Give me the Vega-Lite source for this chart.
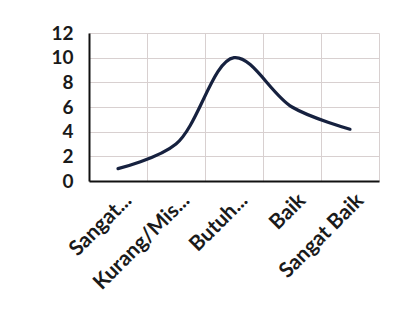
{
  "$schema": "https://vega.github.io/schema/vega-lite/v6.json",
  "width": 290,
  "height": 148,
  "autosize": "none",
  "padding": {"left": 89, "top": 33, "right": 17, "bottom": 129},
  "background": "#ffffff",
  "data": {"values": [
    {"kategori": "Sangat...", "nilai": 1},
    {"kategori": "Kurang/Mis...", "nilai": 3},
    {"kategori": "Butuh...", "nilai": 10},
    {"kategori": "Baik", "nilai": 6},
    {"kategori": "Sangat Baik", "nilai": 4.2}
  ]},
  "config": {
    "view": {"stroke": null},
    "font": "Lato",
    "axis": {"labelFont": "Lato", "labelFontWeight": "bold", "labelColor": "#1a1a1a", "ticks": false, "title": null}
  },
  "mark": {"type": "line", "interpolate": "catmull-rom", "color": "#16213f", "strokeWidth": 3.2, "strokeCap": "round"},
  "encoding": {
    "x": {
      "field": "kategori", "type": "nominal", "sort": null,
      "scale": {"paddingInner": 0, "paddingOuter": 0},
      "axis": {"labelAngle": -45, "labelAlign": "right", "labelBaseline": "middle", "labelFontSize": 21, "labelPadding": 16, "labelOffset": 10,
        "domainColor": "#111111", "domainWidth": 2, "grid": true, "gridColor": "#d8d0d0", "gridWidth": 1, "tickBand": "extent"}
    },
    "y": {
      "field": "nilai", "type": "quantitative",
      "scale": {"domain": [0, 12], "nice": false},
      "axis": {"values": [0, 2, 4, 6, 8, 10, 12], "labelFontSize": 19, "labelPadding": 16,
        "domainColor": "#111111", "domainWidth": 2, "grid": true, "gridColor": "#d8d0d0", "gridWidth": 1}
    }
  }
}
